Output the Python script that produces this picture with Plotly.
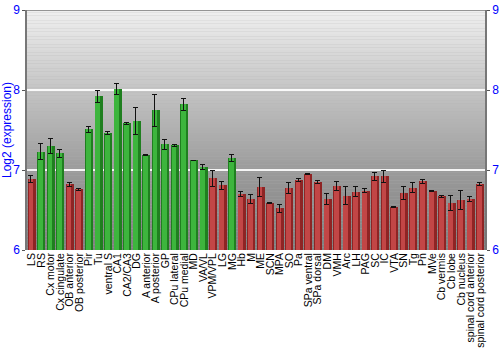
import plotly.graph_objects as go

regions = ["LS", "RS", "Cx motor", "Cx cingulate", "OB anterior", "OB posterior", "Pir", "Tu",
           "ventral S", "CA1", "CA2/CA3", "DG", "A anterior", "A posterior", "GP", "CPu lateral",
           "CPu medial", "MD", "VA/VL", "VPM/VPL", "LG", "MG", "Hb", "M", "ME", "SCN", "MPA", "SO",
           "Pa", "SPa ventral", "SPa dorsal", "DM", "VMH", "Arc", "LH", "PAG", "SC", "IC", "VTA",
           "SN", "Tg", "Pn", "MVe", "Cb vermis", "Cb lobe", "Cb nucleus", "spinal cord anterior",
           "spinal cord posterior"]
expression = [6.89, 7.23, 7.30, 7.21, 6.82, 6.76, 7.51, 7.92,
              7.46, 8.01, 7.585, 7.61, 7.19, 7.75, 7.32, 7.31,
              7.82, 7.12, 7.04, 6.90, 6.81, 7.15, 6.70, 6.64, 6.79, 6.59, 6.52, 6.78,
              6.875, 6.95, 6.85, 6.64, 6.80, 6.68, 6.73, 6.74, 6.92, 6.92, 6.54,
              6.71, 6.78, 6.86, 6.74, 6.67, 6.59, 6.63, 6.64, 6.83]
errors = [0.04, 0.10, 0.09, 0.05, 0.03, 0.01, 0.04, 0.08,
          0.02, 0.07, 0.01, 0.17, 0.005, 0.20, 0.06, 0.01,
          0.08, 0.005, 0.03, 0.10, 0.05, 0.04, 0.03, 0.06, 0.12, 0.005, 0.05, 0.07,
          0.02, 0.01, 0.015, 0.07, 0.06, 0.11, 0.06, 0.025, 0.05, 0.08, 0.01,
          0.08, 0.06, 0.025, 0.01, 0.01, 0.09, 0.12, 0.035, 0.02]
baseline = 6
y_ticks = [6, 7, 8, 9]

dark = ["#1f7f1f" if v >= 7 else "#8e2424" for v in expression]
light = ["#3db53d" if v >= 7 else "#c24646" for v in expression]
heights = [v - baseline for v in expression]

fig = go.Figure()
fig.add_trace(go.Bar(x=regions, y=heights, base=baseline, width=0.84,
                     marker=dict(color=dark, line=dict(width=0)),
                     hoverinfo="skip", showlegend=False))
fig.add_trace(go.Bar(x=regions, y=heights, base=baseline, width=0.5, offset=-0.34,
                     marker=dict(color=light, line=dict(width=0)),
                     error_y=dict(type="data", array=errors, color="#111111", thickness=1, width=2.5),
                     showlegend=False))
# invisible trace for right axis
fig.add_trace(go.Scatter(x=[regions[0]], y=[6], yaxis="y2", mode="markers",
                         marker=dict(opacity=0), hoverinfo="skip", showlegend=False))

# background gradient (piecewise linear grey levels at 6,7,8,9)
stops = [(6.0, 128), (7.0, 155), (8.0, 196), (9.0, 240)]
def grey_at(y):
    for (y0, g0), (y1, g1) in zip(stops[:-1], stops[1:]):
        if y0 <= y <= y1:
            return g0 + (g1 - g0) * (y - y0) / (y1 - y0)
    return stops[-1][1]

n = 90
shapes = []
for i in range(n):
    ya = 6 + 3 * i / n
    yb = 6 + 3 * (i + 1) / n
    g = int(round(grey_at((ya + yb) / 2)))
    shapes.append(dict(type="rect", xref="paper", yref="y", x0=0, x1=1, y0=ya, y1=yb,
                       fillcolor=f"rgb({g},{g},{g})", line=dict(width=0), layer="below"))
shapes.append(dict(type="line", xref="paper", yref="y", x0=0, x1=1, y0=9, y1=9,
                   line=dict(color="#777777", width=1.5)))

fig.update_layout(
    width=500, height=350,
    margin=dict(l=27, r=15, t=10, b=100),
    paper_bgcolor="white", plot_bgcolor="#b0b0b0",
    barmode="overlay", bargap=0,
    shapes=shapes,
    font=dict(family="Liberation Sans, Arial, sans-serif", size=11, color="black"),
    xaxis=dict(tickangle=-90, tickfont=dict(size=10.5, color="black"), showgrid=False,
               tickmode="array", tickvals=regions, ticktext=regions,
               ticks="", ticklen=0, range=[-0.5, len(regions) - 0.5], zeroline=False,
               automargin=False),
    yaxis=dict(range=[6, 9], tickvals=y_ticks, ticks="outside", ticklen=3, tickcolor="#555555",
               tickfont=dict(size=12, color="blue"), showline=True, linecolor="#777777",
               linewidth=1.5, showgrid=True, gridcolor="rgba(255,255,255,0.9)", gridwidth=1.5,
               zeroline=False, automargin=False,
               title=dict(text="Log2 (expression)", font=dict(size=12, color="blue"), standoff=2)),
    yaxis2=dict(range=[6, 9], tickvals=y_ticks, overlaying="y", side="right", ticks="outside",
                ticklen=3, tickcolor="#555555", tickfont=dict(size=12, color="blue"),
                showline=True, linecolor="#777777", linewidth=1.5, showgrid=False, zeroline=False,
                automargin=False),
)

fig.write_html("out.html")
